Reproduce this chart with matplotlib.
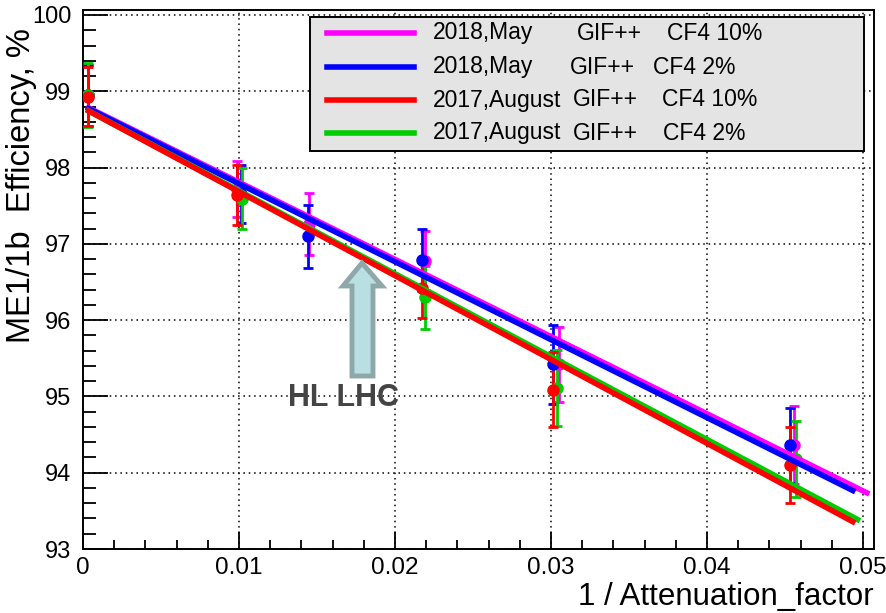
import matplotlib
matplotlib.use("Agg")
import matplotlib.pyplot as plt
from matplotlib.patches import Polygon, Rectangle
from matplotlib.lines import Line2D
from matplotlib.ticker import MultipleLocator, FixedLocator

plt.rcParams['font.family'] = ['Liberation Sans', 'DejaVu Sans']

# ---------------- data ----------------
series_labels = [("2018,May", "GIF++", "CF4 10%"),
                 ("2018,May", "GIF++", "CF4 2%"),
                 ("2017,August", "GIF++", "CF4 10%"),
                 ("2017,August", "GIF++", "CF4 2%")]
series_colors = ["#ff00ff", "#0000ff", "#ff0000", "#00cc00"]

x_may10 = [0.0003, 0.0099, 0.0145, 0.0219, 0.0305, 0.0456]
y_may10 = [98.95, 97.72, 97.26, 96.78, 95.42, 94.36]
e_may10 = [0.40, 0.37, 0.41, 0.39, 0.49, 0.51]

x_may2 = [0.0003, 0.0101, 0.0144, 0.0217, 0.0301, 0.0453]
y_may2 = [98.95, 97.65, 97.10, 96.79, 95.42, 94.36]
e_may2 = [0.40, 0.38, 0.41, 0.41, 0.52, 0.49]

x_aug10 = [0.0003, 0.0099, 0.0217, 0.0301, 0.0453]
y_aug10 = [98.93, 97.64, 96.42, 95.09, 94.10]
e_aug10 = [0.39, 0.39, 0.39, 0.49, 0.50]

x_aug2 = [0.0003, 0.0102, 0.0219, 0.0304, 0.0457]
y_aug2 = [98.95, 97.59, 96.30, 95.11, 94.18]
e_aug2 = [0.42, 0.40, 0.41, 0.50, 0.50]

# linear fit lines (start/end)
fit_x_may10 = [0.0002, 0.0504]
fit_y_may10 = [98.80, 93.72]
fit_x_may2 = [0.0002, 0.0495]
fit_y_may2 = [98.79, 93.75]
fit_x_aug10 = [0.0002, 0.0495]
fit_y_aug10 = [98.76, 93.34]
fit_x_aug2 = [0.0002, 0.0498]
fit_y_aug2 = [98.76, 93.37]

xs = [x_may10, x_may2, x_aug2, x_aug10]
ys = [y_may10, y_may2, y_aug2, y_aug10]
es = [e_may10, e_may2, e_aug2, e_aug10]
fxs = [fit_x_may10, fit_x_may2, fit_x_aug2, fit_x_aug10]
fys = [fit_y_may10, fit_y_may2, fit_y_aug2, fit_y_aug10]
draw_colors = [series_colors[0], series_colors[1], series_colors[3], series_colors[2]]

x_ticks = [0, 0.01, 0.02, 0.03, 0.04, 0.05]
x_ticklabels = ["0", "0.01", "0.02", "0.03", "0.04", "0.05"]
y_ticks = [93, 94, 95, 96, 97, 98, 99, 100]

# ---------------- figure ----------------
W, H = 887, 613
fig = plt.figure(figsize=(W / 100, H / 100), dpi=100)
ax = fig.add_axes([83 / W, (H - 549) / H, (874 - 83) / W, (549 - 10) / H])
ax.set_xlim(0, 0.0507)
ax.set_ylim(93, 100.0655)

for x, y, e, c in zip(xs, ys, es, draw_colors):
    ax.errorbar(x, y, yerr=e, fmt='o', color=c, ms=8, elinewidth=2,
                capsize=3.5, capthick=2, zorder=3)
for fx_, fy_, c in zip(fxs, fys, draw_colors):
    ax.plot(fx_, fy_, color=c, lw=4, solid_capstyle='butt', zorder=4)

ax.xaxis.set_major_locator(FixedLocator(x_ticks))
ax.set_xticklabels(x_ticklabels)
ax.xaxis.set_minor_locator(MultipleLocator(0.002))
ax.yaxis.set_major_locator(FixedLocator(y_ticks))
ax.set_yticklabels([str(v) for v in y_ticks])
ax.yaxis.set_minor_locator(MultipleLocator(0.2))

ax.tick_params(axis='x', which='major', direction='in', length=12, width=1.3,
               labelsize=17.5, pad=6, top=False)
ax.tick_params(axis='x', which='minor', direction='in', length=6.5, width=1.3, top=False)
ax.tick_params(axis='y', which='major', direction='in', length=18, width=1.3,
               labelsize=17, pad=8.5, right=False)
ax.tick_params(axis='y', which='minor', direction='in', length=9.5, width=1.3, right=False)

ax.grid(True, which='major', color='black', linestyle=(0, (1, 2.5)), lw=1.1)
for s in ax.spines.values():
    s.set_linewidth(1.4)

# ---------------- legend (manual) ----------------
def fx(px):
    return px / W

def fy(py):
    return 1 - py / H

fig.patches.append(Rectangle((fx(310), fy(151)), fx(864) - fx(310), fy(17) - fy(151),
                             transform=fig.transFigure, facecolor='#e4e4e4',
                             edgecolor='black', lw=1.4, zorder=5))
row_y = [33, 67, 100, 133]
col2 = [577, 570, 573, 573]
col3 = [667, 653, 662, 663]
for i, (lab, c) in enumerate(zip(series_labels, series_colors)):
    yy = fy(row_y[i])
    fig.lines.append(Line2D([fx(327), fx(414)], [yy, yy], color=c, lw=4,
                            transform=fig.transFigure, zorder=6))
    fig.text(fx(433), yy, lab[0], fontsize=16.5, va='center', ha='left', zorder=6)
    fig.text(fx(col2[i]), yy, lab[1], fontsize=16.5, va='center', ha='left', zorder=6)
    fig.text(fx(col3[i]), yy, lab[2], fontsize=16.5, va='center', ha='left', zorder=6)

# ---------------- HL LHC arrow + text ----------------
arrow_px = [(362, 263), (382, 286), (373, 286), (373, 376), (352, 376),
            (352, 286), (343, 286)]
fig.patches.append(Polygon([(fx(a), fy(b)) for a, b in arrow_px], closed=True,
                           transform=fig.transFigure, facecolor='#b9dfe2',
                           edgecolor='#8ea8aa', lw=3.5, joinstyle='miter', zorder=7))
fig.text(fx(343), fy(398), "HL LHC", fontsize=22, fontweight='bold',
         color='#444444', ha='center', va='center', zorder=7)

# ---------------- axis titles ----------------
fig.text(fx(22), fy(28), "ME1/1b  Efficiency, %", rotation=90, fontsize=23.5,
         ha='center', va='top')
fig.text(fx(874), fy(597), "1 / Attenuation_factor", fontsize=22.5,
         ha='right', va='center')

fig.savefig("out.png", dpi=100)
